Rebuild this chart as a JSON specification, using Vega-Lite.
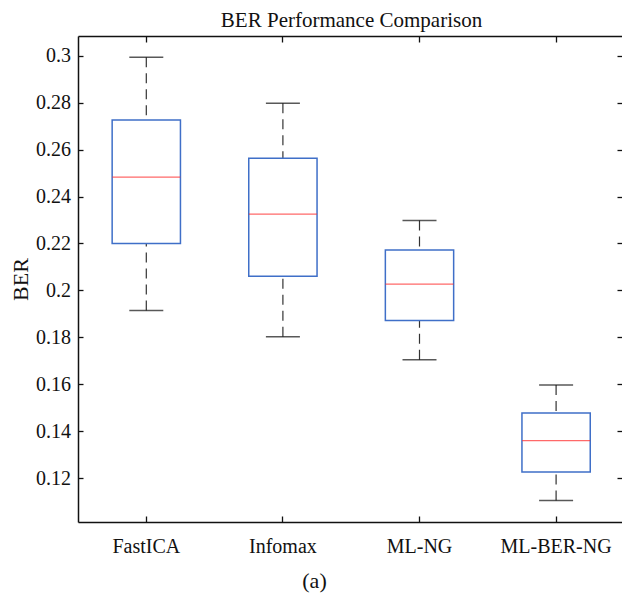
{
  "$schema": "https://vega.github.io/schema/vega-lite/v6.json",
  "width": 544,
  "height": 486,
  "autosize": {"type": "none"},
  "padding": {"left": 78, "top": 36, "right": 0, "bottom": 72},
  "background": "white",
  "config": {"view": {"stroke": null}, "font": "'Liberation Serif', 'Times New Roman', Times, serif"},
  "data": {"values": [
    {"method": "FastICA", "lower": 0.1914, "q1": 0.2200, "median": 0.2483, "q3": 0.2726, "upper": 0.2993},
    {"method": "Infomax", "lower": 0.1803, "q1": 0.2060, "median": 0.2325, "q3": 0.2563, "upper": 0.2797},
    {"method": "ML-NG", "lower": 0.1705, "q1": 0.1872, "median": 0.2027, "q3": 0.2172, "upper": 0.2298},
    {"method": "ML-BER-NG", "lower": 0.1105, "q1": 0.1227, "median": 0.1360, "q3": 0.1478, "upper": 0.1597}
  ]},
  "layer": [
    {
      "mark": {"type": "rule", "color": "#333333", "strokeWidth": 1.2, "strokeDash": [10, 6]},
      "encoding": {
        "x": {"field": "method", "type": "nominal", "sort": null, "axis": null, "scale": {"range": [0, 546.4], "paddingInner": 0, "paddingOuter": 0}},
        "y": {"field": "lower", "type": "quantitative", "axis": null, "scale": {"domain": [0.10136, 0.30838], "nice": false, "zero": false}},
        "y2": {"field": "q1"}
      }
    },
    {
      "mark": {"type": "rule", "color": "#333333", "strokeWidth": 1.2, "strokeDash": [10, 6]},
      "encoding": {
        "x": {"field": "method", "type": "nominal", "sort": null, "axis": null},
        "y": {"field": "upper", "type": "quantitative", "axis": null, "scale": {"domain": [0.10136, 0.30838], "nice": false, "zero": false}},
        "y2": {"field": "q3"}
      }
    },
    {
      "mark": {"type": "bar", "fill": "white", "stroke": "#3f6fc8", "strokeWidth": 1.5, "width": {"band": 0.5}},
      "encoding": {
        "x": {"field": "method", "type": "nominal", "sort": null,
          "axis": {"orient": "bottom", "title": "(a)", "titleX": 236, "titleY": 65.5, "titleBaseline": "alphabetic", "titleAlign": "center", "titleFontSize": 22, "titleFontWeight": "normal", "titleColor": "#111111", "titleFont": "'Liberation Serif', 'Times New Roman', Times, serif",
            "labelAngle": 0, "labelFontSize": 20, "labelFont": "'Liberation Serif', 'Times New Roman', Times, serif", "labelColor": "#111111", "labelBaseline": "alphabetic", "labelPadding": 36.5,
            "tickSize": -6, "tickColor": "#111111", "tickWidth": 1.3, "domainColor": "#111111", "domainWidth": 1.5, "grid": false}},
        "y": {"field": "q1", "type": "quantitative", "scale": {"domain": [0.10136, 0.30838], "nice": false, "zero": false},
          "axis": {"orient": "left", "title": "BER", "titleX": -51, "titleY": 243, "titleAngle": 270, "titleAlign": "center", "titleBaseline": "alphabetic", "titleFontSize": 22, "titleFontWeight": "normal", "titleColor": "#111111", "titleFont": "'Liberation Serif', 'Times New Roman', Times, serif",
            "values": [0.12, 0.14, 0.16, 0.18, 0.2, 0.22, 0.24, 0.26, 0.28, 0.3], "format": ".2~f",
            "labelFontSize": 20, "labelFont": "'Liberation Serif', 'Times New Roman', Times, serif", "labelColor": "#111111", "labelPadding": 12.6,
            "tickSize": -5, "tickColor": "#111111", "tickWidth": 1.3, "domainColor": "#111111", "domainWidth": 1.5, "grid": false}},
        "y2": {"field": "q3"}
      }
    },
    {
      "mark": {"type": "tick", "color": "#111111", "thickness": 1.5, "size": 34},
      "encoding": {
        "x": {"field": "method", "type": "nominal", "sort": null, "axis": null},
        "y": {"field": "lower", "type": "quantitative", "axis": null, "scale": {"domain": [0.10136, 0.30838], "nice": false, "zero": false}}
      }
    },
    {
      "mark": {"type": "tick", "color": "#111111", "thickness": 1.5, "size": 34},
      "encoding": {
        "x": {"field": "method", "type": "nominal", "sort": null, "axis": null},
        "y": {"field": "upper", "type": "quantitative", "axis": null, "scale": {"domain": [0.10136, 0.30838], "nice": false, "zero": false}}
      }
    },
    {
      "mark": {"type": "tick", "color": "#ff2a2a", "thickness": 1.2, "size": 68},
      "encoding": {
        "x": {"field": "method", "type": "nominal", "sort": null,
          "axis": {"orient": "top", "title": "BER Performance Comparison", "titleX": 273, "titleY": -9.3, "titleAlign": "center", "titleBaseline": "alphabetic", "titleFontSize": 21, "titleFontWeight": "normal", "titleColor": "#111111", "titleFont": "'Liberation Serif', 'Times New Roman', Times, serif",
            "labels": false, "tickSize": -6, "tickColor": "#111111", "tickWidth": 1.3, "domainColor": "#111111", "domainWidth": 1.5, "grid": false}},
        "y": {"field": "median", "type": "quantitative", "scale": {"domain": [0.10136, 0.30838], "nice": false, "zero": false},
          "axis": {"orient": "right", "title": null, "labels": false, "domain": false, "values": [0.12, 0.14, 0.16, 0.18, 0.2, 0.22, 0.24, 0.26, 0.28, 0.3], "tickSize": -5, "tickColor": "#111111", "tickWidth": 1.3, "grid": false}}
      }
    }
  ],
  "resolve": {"axis": {"x": "independent", "y": "independent"}}
}
